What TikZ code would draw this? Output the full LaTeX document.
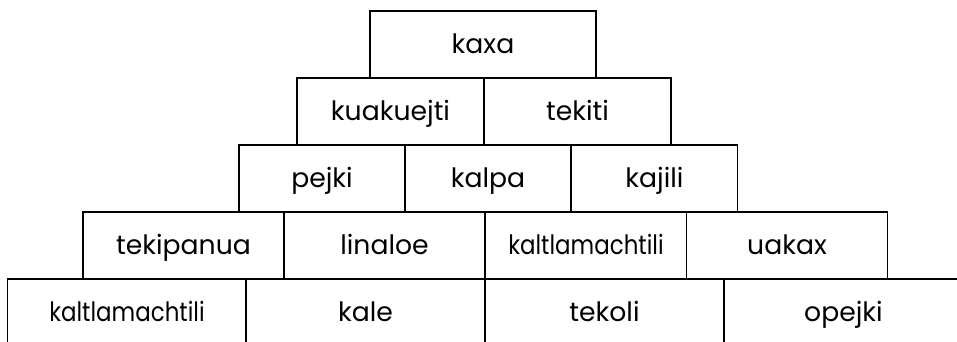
\documentclass[tikz,border=0pt]{standalone}
\usepackage{fontspec}
\newfontfamily\brickfont{Poppins}
\newfontfamily\narrowbrick[FakeStretch=0.86]{Poppins}
\usepackage{tikz}

\begin{document}
\begin{tikzpicture}[x=0.75pt, y=-0.75pt,
  brick/.style={draw, line width=1.2pt, minimum height=50.25pt, inner sep=0pt, text height=18pt, text depth=5pt, font=\brickfont\fontsize{20}{24}\selectfont},
  longword/.style={font=\narrowbrick\fontsize{20}{24}\selectfont}]
\useasboundingbox (0,0) rectangle (957,342);
\clip (0,0) rectangle (957,342);
% top row
\node[brick, minimum width=169.5pt] (kaxa) at (483,44.5) {kaxa};
% second row
\foreach \nm/\cx/\lab in {kuakuejti/390.5/kuakuejti, tekiti/577.5/tekiti} { \node[brick, minimum width=140.25pt] (\nm) at (\cx,111.5) {\lab}; }
% third row
\foreach \nm/\cx/\lab in {pejki/322/pejki, kalpa/488/kalpa, kajili/654.5/kajili} { \node[brick, minimum width=124.5pt] (\nm) at (\cx,178.5) {\lab}; }
% fourth row
\foreach \nm/\cx/\lab in {tekipanua/183.5/tekipanua, linaloe/384.5/linaloe, uakax/787/uakax} { \node[brick, minimum width=150.75pt] (\nm) at (\cx,245.5) {\lab}; }
\node[brick, longword, minimum width=150.75pt] (kaltlaA) at (586,245.5) {kaltlamachtili};
% bottom row, cut by the page edge
\foreach \nm/\cx/\lab in {kale/365.5/kale, tekoli/604.5/tekoli, opejki/843.5/opejki} { \node[brick, minimum width=179.25pt] (\nm) at (\cx,312.5) {\lab}; }
\node[brick, longword, minimum width=179.25pt] (kaltlaB) at (127,312.5) {kaltlamachtili};
\end{tikzpicture}
\end{document}
